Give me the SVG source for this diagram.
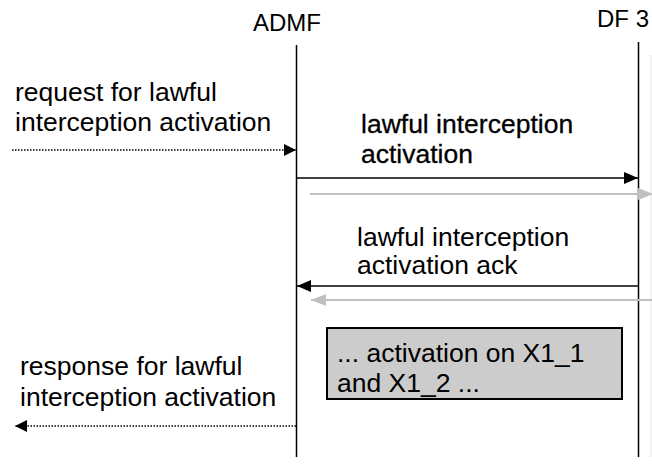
<svg xmlns="http://www.w3.org/2000/svg" width="652" height="467" viewBox="0 0 652 467">
<defs>
<style>
text{font-family:"Liberation Sans",Arial,sans-serif;font-size:26.5px;fill:#000}
.hdr{font-size:24px}
.life{stroke:#000;stroke-width:1.5;fill:none}
.msg{stroke:#000;stroke-width:1.5;fill:none}
.ghost{stroke:#c0c0c0;stroke-width:2;fill:none}
.dot{stroke:#000;stroke-width:1.3;stroke-dasharray:1.5 1.5;fill:none}
.bold{stroke:#000;stroke-width:0.3}
</style>
<marker id="ah" viewBox="0 0 12 12" refX="12" refY="6" markerWidth="12" markerHeight="12" markerUnits="userSpaceOnUse" orient="auto">
<path d="M0,0 L12,6 L0,12 Z" fill="#000"/>
</marker>
<marker id="ahb" viewBox="0 0 14 12" refX="14" refY="6" markerWidth="14" markerHeight="12" markerUnits="userSpaceOnUse" orient="auto">
<path d="M0,0 L14,6 L0,12 Z" fill="#000"/>
</marker>
<marker id="ahg" viewBox="0 0 15 12" refX="15" refY="6" markerWidth="15" markerHeight="12" markerUnits="userSpaceOnUse" orient="auto">
<path d="M0,0 L15,6 L0,12 Z" fill="#c0c0c0"/>
</marker>
</defs>
<g id="ADMF">
<text class="hdr" x="253" y="31">ADMF</text>
<line class="life" x1="296.5" y1="45" x2="296.5" y2="457"/>
</g>
<g id="DF3">
<text class="hdr" x="597" y="27">DF 3</text>
<line class="life" x1="638.5" y1="42" x2="638.5" y2="457"/>
<line x1="651" y1="55" x2="651" y2="457" stroke="#e6e6e6" stroke-width="1"/>
</g>
<g id="note">
<rect x="327" y="328" width="295" height="71" fill="#cccccc" stroke="#000" stroke-width="2"/>
<text x="337" y="362">... activation on X1_1</text>
<text x="337" y="392">and X1_2 ...</text>
</g>
<g id="labels">
<text x="15" y="101">request for lawful</text>
<text x="15" y="131">interception activation</text>
<text class="bold" x="361" y="133">lawful interception</text>
<text class="bold" x="361" y="163">activation</text>
<text x="357" y="246">lawful interception</text>
<text x="357" y="274">activation ack</text>
<text x="20" y="375">response for lawful</text>
<text x="20" y="406">interception activation</text>
</g>
<g id="connectors">
<line class="dot" x1="12" y1="150" x2="296" y2="150" marker-end="url(#ah)"/>
<line class="msg" x1="297" y1="178" x2="638" y2="178" marker-end="url(#ahb)"/>
<line class="ghost" x1="310" y1="194" x2="653" y2="194" marker-end="url(#ahg)"/>
<line class="msg" x1="638" y1="286" x2="297" y2="286" marker-end="url(#ahb)"/>
<line class="ghost" x1="652" y1="300" x2="311" y2="300" marker-end="url(#ahg)"/>
<line class="dot" x1="296" y1="426" x2="15" y2="426" marker-end="url(#ah)"/>
</g>
</svg>
